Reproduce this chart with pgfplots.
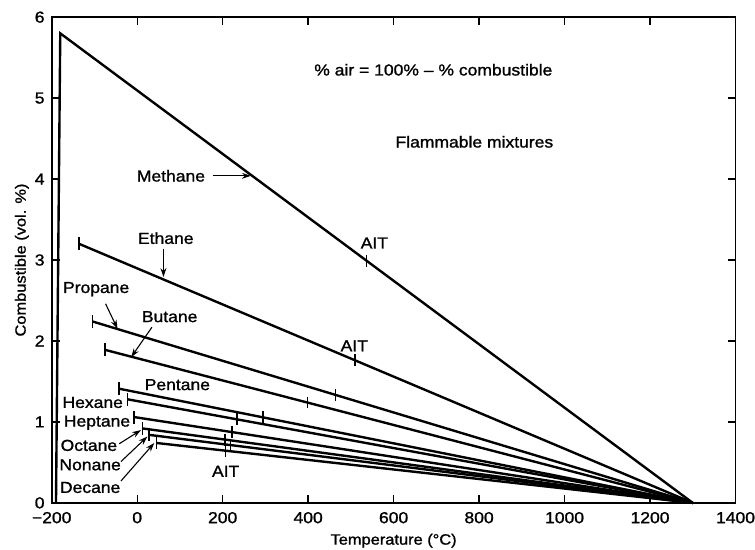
\documentclass[border=0pt]{standalone}
\usepackage{pgfplots}
\pgfplotsset{compat=1.18}
\usepackage{fontspec}
\setmainfont{Liberation Sans}[FakeStretch=1.1, FakeBold=1.2]
\usetikzlibrary{arrows.meta}

\begin{document}
\fontsize{16}{19}\selectfont
\begin{tikzpicture}
\begin{axis}[
  scale only axis, width=687pt, height=488pt,
  xmin=-200, xmax=1400, ymin=0, ymax=6,
  xtick={-200,0,200,400,600,800,1000,1200,1400},
  xticklabels={−200,0,200,400,600,800,1000,1200,1400},
  ytick={0,1,2,3,4,5,6},
  yticklabels={0,1,2,3,4,5,6},
  tick align=inside, major tick length=8pt,
  every tick/.style={black, line width=1.3pt},
  axis line style={line width=1.7pt},
  tick label style={font=\fontsize{16}{19}\selectfont, inner sep=0pt},
  xticklabel style={yshift=-9pt},
  yticklabel style={xshift=-7pt},
  xlabel={Temperature (°C)}, ylabel={Combustible (vol. \%)},
  label style={font=\fontsize{15}{18}\selectfont, inner sep=0pt},
  xlabel style={at={(axis description cs:0.5,-0.078)}, anchor=center},
  ylabel style={at={(axis description cs:-0.0437,0.5)}, anchor=center},
  clip=false,
  every axis plot/.append style={black, line width=2.4pt},
]
% bounding box of the whole figure
\path (axis cs:-321,-0.578) rectangle (axis cs:1437,6.212);
% Methane
\addplot[mark=none] coordinates {(-190,0) (-180,5.8) (1300,0)};
% Ethane .. Decane
\addplot[mark=none] coordinates {(-136,3.2) (1300,0)};
\addplot[mark=none] coordinates {(-104,2.24) (1300,0)};
\addplot[mark=none] coordinates {(-75,1.89) (1300,0)};
\addplot[mark=none] coordinates {(-42,1.41) (1300,0)};
\addplot[mark=none] coordinates {(-23,1.28) (1300,0)};
\addplot[mark=none] coordinates {(-7,1.06) (1300,0)};
\addplot[mark=none] coordinates {(12,0.92) (1300,0)};
\addplot[mark=none] coordinates {(28,0.84) (1300,0)};
\addplot[mark=none] coordinates {(45,0.74) (1300,0)};
% start ticks
\addplot[only marks, mark=|, mark size=6.5pt, mark options={line width=1.5pt}] coordinates {
(-136,3.2) (-104,2.24) (-75,1.89) (-42,1.41) (-23,1.28) (-7,1.06) (12,0.92) (28,0.84) (45,0.74)};
% AIT ticks
\addplot[only marks, mark=|, mark size=6pt, mark options={line width=1.5pt}] coordinates {
(537,2.990) (510,1.760) (464,1.334) (398,1.240) (294,1.057) (233,1.032) (222,0.874) (206,0.781) (218,0.715) (207,0.644)};

\node at (axis cs:79,4.04) {Methane};
\draw[-{Stealth[length=9pt,width=6pt]}, line width=1.1pt] (axis cs:177,4.04) -- (axis cs:266,4.04);
\node at (axis cs:555,3.21) {AIT};
\node at (axis cs:67,3.27) {Ethane};
\draw[-{Stealth[length=9pt,width=6pt]}, line width=1.1pt] (axis cs:61.5,3.14) -- (axis cs:61.5,2.79);
\node at (axis cs:-96,2.64) {Propane};
\draw[-{Stealth[length=9pt,width=6pt]}, line width=1.1pt] (axis cs:-74,2.46) -- (axis cs:-46,2.15);
\node at (axis cs:76,2.30) {Butane};
\draw[-{Stealth[length=9pt,width=6pt]}, line width=1.1pt] (axis cs:34.5,2.17) -- (axis cs:-14,1.80);
\node at (axis cs:508,1.94) {AIT};
\node at (axis cs:94,1.46) {Pentane};
\node at (axis cs:-104,1.24) {Hexane};
\node at (axis cs:-94,0.99) {Heptane};
\node at (axis cs:-113,0.71) {Octane};
\draw[-{Stealth[length=9pt,width=6pt]}, line width=1.1pt] (axis cs:-42,0.73) -- (axis cs:9,0.90);
\node at (axis cs:-110,0.47) {Nonane};
\draw[-{Stealth[length=9pt,width=6pt]}, line width=1.1pt] (axis cs:-38,0.51) -- (axis cs:24,0.82);
\node at (axis cs:-110,0.19) {Decane};
\draw[-{Stealth[length=9pt,width=6pt]}, line width=1.1pt] (axis cs:-38,0.27) -- (axis cs:40,0.74);
\node at (axis cs:207,0.39) {AIT};
\node at (axis cs:693,5.35) {\% air = 100\% – \% combustible};
\node at (axis cs:789,4.46) {Flammable mixtures};
\end{axis}
\end{tikzpicture}
\end{document}
